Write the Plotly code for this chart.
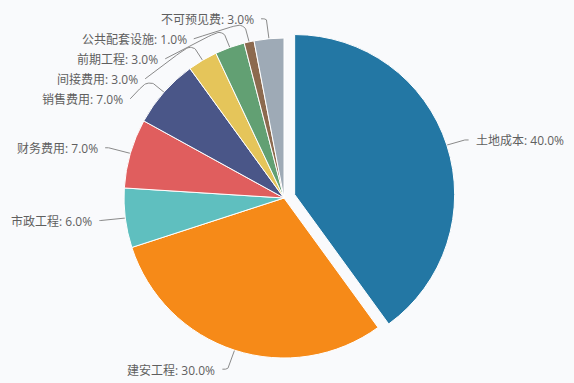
import math
import plotly.graph_objects as go

# ---- data ----
labels = ["土地成本", "建安工程", "市政工程", "财务费用", "销售费用",
          "间接费用", "前期工程", "公共配套设施", "不可预见费"]
values = [40, 30, 6, 7, 7, 3, 3, 1, 3]
colors = ["#2377a4", "#f68a18", "#5fbfbf", "#e05e5e", "#4a5688",
          "#e5c55a", "#62a073", "#8c6a4f", "#9eaab6"]
pulls = [0.07, 0, 0, 0, 0, 0, 0, 0, 0]

# ---- layout constants ----
W, H = 574, 383
CX, CY, R = 284, 198, 160
L1, L2, GAP, LINE_H = 20, 6, 5, 20
RL = R + L1 + 3
BG = "#f9fafc"
FONT = "Open Sans, Noto Sans CJK SC, sans-serif"


def text_width(s, size=12):
    w = 0
    for ch in s:
        if ord(ch) > 0x2E80:
            w += size
        elif ch.isdigit():
            w += size * 0.575
        elif ch == "%":
            w += size * 0.83
        else:
            w += size * 0.27
    return w


maxpull = max(pulls)
half = R * (1 + maxpull)
dom_x = [(CX - half) / W, (CX + half) / W]
dom_y = [(H - CY - half) / H, (H - CY + half) / H]

total = sum(values)
cum = 0
items = []
for i, (lab, v) in enumerate(zip(labels, values)):
    a0 = cum / total * 360
    cum += v
    a1 = cum / total * 360
    mid = math.radians((a0 + a1) / 2)
    dx, dy = math.sin(mid), -math.cos(mid)
    ox, oy = CX + pulls[i] * R * dx, CY + pulls[i] * R * dy
    p0 = (ox + R * dx, oy + R * dy)
    p1 = (ox + (R + L1) * dx, oy + (R + L1) * dy)
    side = -1 if dx < 0 else 1
    text = f"{lab}: {v / total * 100:.1f}%"
    items.append(dict(p0=p0, p1=p1, side=side, y=p1[1], moved=False,
                      text=text, ox=ox, oy=oy, dx=dx, dy=dy))

# overlap avoidance per side
for side in (-1, 1):
    grp = sorted([it for it in items if it["side"] == side], key=lambda t: t["y"])
    for j in range(1, len(grp)):
        if grp[j]["y"] < grp[j - 1]["y"] + LINE_H:
            grp[j]["y"] = grp[j - 1]["y"] + LINE_H
            grp[j]["moved"] = True

for it in items:
    side = it["side"]
    if it["moved"]:
        dyy = it["y"] - CY
        x2 = CX + side * math.sqrt(max(RL ** 2 - dyy ** 2, 0))
    else:
        x2 = it["p1"][0] + side * L2
    # keep right-side labels inside the canvas
    if side > 0:
        w = text_width(it["text"])
        lim = W - 12 - w - GAP
        if x2 > lim:
            x2 = lim
            p1x = x2 - L2
            if p1x < it["p1"][0]:
                t = (p1x - it["ox"]) / it["dx"]
                it["p1"] = (p1x, it["oy"] + t * it["dy"])
                if not it["moved"]:
                    it["y"] = it["p1"][1]
    it["p2"] = (x2, it["y"])


def lerp(a, b, t):
    return (a[0] + (b[0] - a[0]) * t, a[1] + (b[1] - a[1]) * t)


def bez(a, c1, c2, b, n=14):
    pts = []
    for k in range(n + 1):
        t = k / n
        u = 1 - t
        pts.append((u ** 3 * a[0] + 3 * u * u * t * c1[0] + 3 * u * t * t * c2[0] + t ** 3 * b[0],
                    u ** 3 * a[1] + 3 * u * u * t * c1[1] + 3 * u * t * t * c2[1] + t ** 3 * b[1]))
    return pts


def smooth_line(p0, p1, p2, s=0.3):
    l1 = math.dist(p0, p1)
    l2 = math.dist(p1, p2)
    if l1 == 0 or l2 == 0:
        return [p0, p1, p2]
    m = min(l1, l2) * s
    m0 = lerp(p1, p0, m / l1)
    m2 = lerp(p1, p2, m / l2)
    mm = lerp(m0, m2, 0.5)
    return bez(p0, m0, m0, mm) + bez(mm, m2, m2, p2)[1:]


lx, ly = [], []
for it in items:
    pts = smooth_line(it["p0"], it["p1"], it["p2"])
    lx += [p[0] for p in pts] + [None]
    ly += [p[1] for p in pts] + [None]

fig = go.Figure()
fig.add_trace(go.Scatter(x=lx, y=ly, mode="lines",
                         line=dict(color="#8a8a8a", width=1),
                         hoverinfo="skip", showlegend=False))
fig.add_trace(go.Pie(labels=labels, values=values, sort=False,
                     direction="clockwise", rotation=0, pull=pulls,
                     marker=dict(colors=colors, line=dict(color="white", width=1)),
                     textinfo="none", hoverinfo="label+percent",
                     domain=dict(x=dom_x, y=dom_y), showlegend=False))

annotations = []
for it in items:
    side = it["side"]
    annotations.append(dict(
        x=it["p2"][0] + side * GAP, y=it["p2"][1] + 1, xref="x", yref="y",
        text=it["text"], showarrow=False,
        xanchor="right" if side < 0 else "left", yanchor="middle",
        font=dict(family=FONT, size=12, color="#5f5f5f")))

fig.update_layout(
    width=W, height=H, autosize=False,
    margin=dict(l=0, r=0, t=0, b=0),
    paper_bgcolor=BG, plot_bgcolor=BG,
    xaxis=dict(range=[0, W], visible=False, fixedrange=True),
    yaxis=dict(range=[H, 0], visible=False, fixedrange=True),
    annotations=annotations,
    showlegend=False,
)

fig.write_html("out.html", config={"displayModeBar": False},
               post_script="document.body.style.margin='0';document.body.style.overflow='hidden';")
